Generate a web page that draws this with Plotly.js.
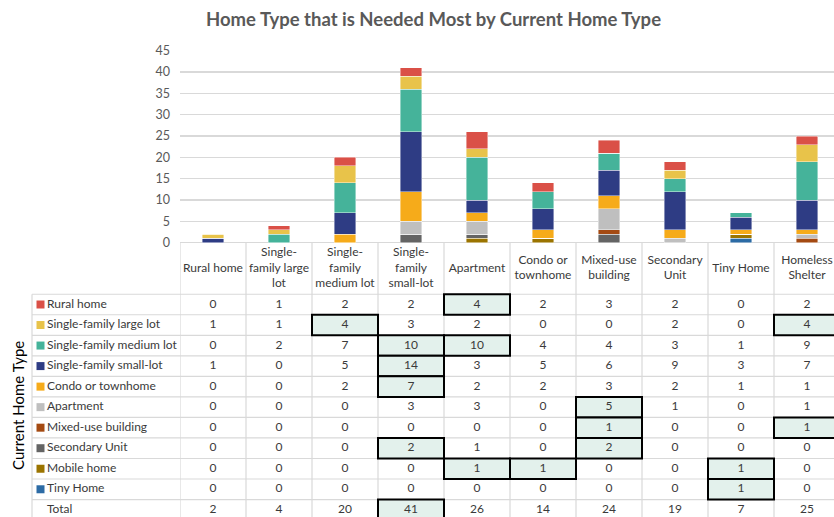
<!DOCTYPE html>
<html>
<head>
<meta charset="utf-8">
<script src="https://cdn.plot.ly/plotly-3.0.1.min.js"></script>
<style>
  html, body { margin: 0; padding: 0; background: #ffffff; }
  #chart { width: 834px; height: 517px; }
</style>
</head>
<body>
<div id="chart"></div>
<script>
// ---------------- DATA ----------------
const categories = [
  "Rural home", "Single-family large lot", "Single-family medium lot",
  "Single-family small-lot", "Apartment", "Condo or townhome",
  "Mixed-use building", "Secondary Unit", "Tiny Home", "Homeless Shelter"
];
const headerLabels = [
  "Rural home", "Single-<br>family large<br>lot", "Single-<br>family<br>medium lot",
  "Single-<br>family<br>small-lot", "Apartment", "Condo or<br>townhome",
  "Mixed-use<br>building", "Secondary<br>Unit", "Tiny Home", "Homeless<br>Shelter"
];
const seriesNames = [
  "Rural home", "Single-family large lot", "Single-family medium lot",
  "Single-family small-lot", "Condo or townhome", "Apartment",
  "Mixed-use building", "Secondary Unit", "Mobile home", "Tiny Home"
];
const seriesColors = [
  "#DA5047", "#E8C34A", "#45B39A", "#2E3C84", "#F6AB1A",
  "#BFBFBF", "#A44A12", "#646464", "#9B7400", "#2C6BA5"
];
const ruralHome      = [0, 1, 2, 2, 4, 2, 3, 2, 0, 2];
const sfLargeLot     = [1, 1, 4, 3, 2, 0, 0, 2, 0, 4];
const sfMediumLot    = [0, 2, 7, 10, 10, 4, 4, 3, 1, 9];
const sfSmallLot     = [1, 0, 5, 14, 3, 5, 6, 9, 3, 7];
const condoTownhome  = [0, 0, 2, 7, 2, 2, 3, 2, 1, 1];
const apartment      = [0, 0, 0, 3, 3, 0, 5, 1, 0, 1];
const mixedUse       = [0, 0, 0, 0, 0, 0, 1, 0, 0, 1];
const secondaryUnit  = [0, 0, 0, 2, 1, 0, 2, 0, 0, 0];
const mobileHome     = [0, 0, 0, 0, 1, 1, 0, 0, 1, 0];
const tinyHome       = [0, 0, 0, 0, 0, 0, 0, 0, 1, 0];
const totals         = [2, 4, 20, 41, 26, 14, 24, 19, 7, 25];
const seriesValues = [ruralHome, sfLargeLot, sfMediumLot, sfSmallLot, condoTownhome,
  apartment, mixedUse, secondaryUnit, mobileHome, tinyHome];
const totalLabel = "Total";
// highlighted table cells: [column, row]
const highlightCells = [
  ["Single-family medium lot", "Single-family large lot"],
  ["Single-family small-lot", "Single-family medium lot"],
  ["Single-family small-lot", "Single-family small-lot"],
  ["Single-family small-lot", "Condo or townhome"],
  ["Single-family small-lot", "Secondary Unit"],
  ["Single-family small-lot", "Total"],
  ["Apartment", "Rural home"],
  ["Apartment", "Single-family medium lot"],
  ["Apartment", "Mobile home"],
  ["Condo or townhome", "Mobile home"],
  ["Mixed-use building", "Apartment"],
  ["Mixed-use building", "Mixed-use building"],
  ["Mixed-use building", "Secondary Unit"],
  ["Tiny Home", "Mobile home"],
  ["Tiny Home", "Tiny Home"],
  ["Homeless Shelter", "Single-family large lot"],
  ["Homeless Shelter", "Mixed-use building"]
];

// ---------------- LAYOUT CONSTANTS ----------------
const W = 834, H = 517;
const FONT = "Lato, 'Open Sans', sans-serif";
const TXT = "#3A3A3A";
const GRID = "#D9D9D9";
const plotLeft = 180;          // px where category columns start
const labelColLeft = 32;       // px left border of row-label column
const barTop = 50.7, barBottom = 242.7;
const tableTop = 243;
const rowCenter0 = 304.5, rowH = 20.53;
const y2Top = (tableTop - rowCenter0) / rowH;
const y2Bottom = (H - rowCenter0) / rowH;

const traces = [];

// stacked bars (bottom of stack = last series)
for (let s = seriesNames.length - 1; s >= 0; s--) {
  traces.push({
    type: "bar", name: seriesNames[s], x: categories, y: seriesValues[s],
    xaxis: "x", yaxis: "y",
    marker: { color: seriesColors[s], line: { color: "rgba(255,255,255,0.7)", width: 0.6 } },
    hoverinfo: "x+y+name"
  });
}

// table rows
const rowNames = seriesNames.concat([totalLabel]);
const rowValues = seriesValues.concat([totals]);
const cellX = [], cellY = [], cellT = [];
rowValues.forEach((vals, r) => {
  vals.forEach((v, c) => { cellX.push(categories[c]); cellY.push(r); cellT.push(String(v)); });
});
traces.push({
  type: "scatter", mode: "text", x: cellX, y: cellY, text: cellT,
  xaxis: "x", yaxis: "y2", textposition: "middle center",
  textfont: { family: FONT, size: 12, color: TXT }, hoverinfo: "skip", showlegend: false
});
// header labels
traces.push({
  type: "scatter", mode: "text", x: categories, y: categories.map(() => -1.75), text: headerLabels,
  xaxis: "x", yaxis: "y2", textposition: "middle center",
  textfont: { family: FONT, size: 12, color: TXT }, hoverinfo: "skip", showlegend: false
});
// row labels (left column)
traces.push({
  type: "scatter", mode: "text", x: rowNames.map(() => 47), y: rowNames.map((_, i) => i), text: rowNames,
  xaxis: "x2", yaxis: "y2", textposition: "middle right",
  textfont: { family: FONT, size: 12, color: TXT }, hoverinfo: "skip", showlegend: false
});
// legend keys
traces.push({
  type: "scatter", mode: "markers", x: seriesNames.map(() => 40.5), y: seriesNames.map((_, i) => i),
  xaxis: "x2", yaxis: "y2",
  marker: { symbol: "square", size: 8, color: seriesColors, line: { width: 0 } },
  hoverinfo: "skip", showlegend: false
});

// ---------------- SHAPES ----------------
const shapes = [];
// horizontal row lines
for (let r = 0; r <= rowNames.length; r++) {
  shapes.push({ type: "line", xref: "paper", yref: "y2", x0: labelColLeft / W, x1: 1,
    y0: r - 0.5, y1: r - 0.5, line: { color: GRID, width: 1.2 }, layer: "below" });
}
// vertical column lines
for (let c = 0; c < categories.length; c++) {
  shapes.push({ type: "line", xref: "x", yref: "y2", x0: c - 0.5, x1: c - 0.5,
    y0: y2Top, y1: rowNames.length + 1, line: { color: GRID, width: 1.2 }, layer: "below" });
}
// label column left border
shapes.push({ type: "line", xref: "paper", yref: "y2", x0: labelColLeft / W, x1: labelColLeft / W,
  y0: -0.5, y1: rowNames.length + 1, line: { color: GRID, width: 1.2 }, layer: "below" });
// highlighted cells
highlightCells.forEach(([col, row]) => {
  const c = categories.indexOf(col), r = rowNames.indexOf(row);
  shapes.push({ type: "rect", xref: "x", yref: "y2", x0: c - 0.5, x1: c + 0.5, y0: r - 0.5, y1: r + 0.5,
    fillcolor: "#E3F1EC", line: { color: "#000000", width: 2 }, layer: "below" });
});

const layout = {
  width: W, height: H,
  margin: { l: 0, r: 0, t: 0, b: 0 },
  paper_bgcolor: "#ffffff", plot_bgcolor: "rgba(0,0,0,0)",
  showlegend: false,
  barmode: "stack", bargap: 0.68,
  font: { family: FONT, color: TXT },
  title: {
    text: "Home Type that is Needed Most by Current Home Type",
    font: { family: FONT, size: 18.5, color: "#595959", weight: "bold" },
    x: 433.5 / W, xanchor: "center", xref: "paper", y: 1 - 20 / H, yanchor: "middle", yref: "container"
  },
  xaxis: {
    type: "category", domain: [plotLeft / W, 1], range: [-0.5, -0.5 + (W - plotLeft) / 66],
    anchor: "y", showticklabels: false, showgrid: false, zeroline: false, showline: false, ticks: ""
  },
  yaxis: {
    domain: [1 - barBottom / H, 1 - barTop / H], range: [0, 45], dtick: 5, anchor: "x",
    showgrid: true, gridcolor: GRID, gridwidth: 1.2, zeroline: true, zerolinecolor: GRID, zerolinewidth: 1.2,
    showline: false, ticks: "", ticklabelstandoff: 9,
    tickfont: { family: FONT, size: 12.5, color: "#595959" }
  },
  xaxis2: { domain: [0, plotLeft / W], range: [0, plotLeft], anchor: "y2", visible: false },
  yaxis2: { domain: [0, 1 - tableTop / H], range: [y2Bottom, y2Top], anchor: "x", visible: false },
  shapes: shapes,
  annotations: [{
    text: "Current Home Type", xref: "paper", yref: "paper", x: 18 / W, y: 1 - 406 / H,
    textangle: -90, showarrow: false, xanchor: "center", yanchor: "middle",
    font: { family: FONT, size: 15, color: "#000000" }
  }]
};

Plotly.newPlot("chart", traces, layout, { displayModeBar: false, staticPlot: true });
</script>
</body>
</html>
